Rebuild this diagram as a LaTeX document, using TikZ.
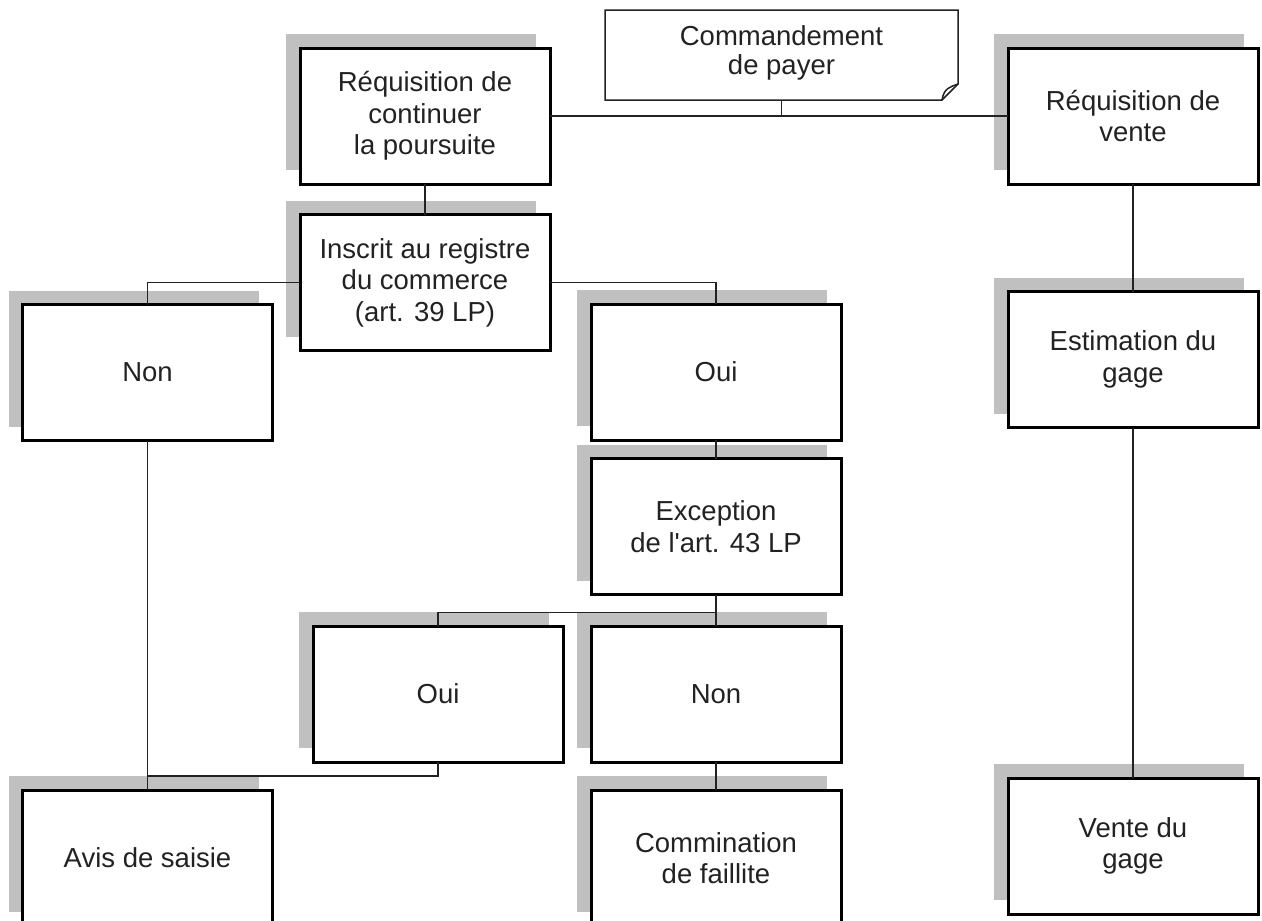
\documentclass[tikz,border=0pt]{standalone}
\usepackage{fontspec}
\setmainfont{Liberation Sans}
\usetikzlibrary{shadows,calc}
\definecolor{shadowgrey}{HTML}{C0C0C0}
\definecolor{inkgrey}{HTML}{222222}
\tikzset{
  box/.style={draw=black, line width=3pt, fill=white, minimum width=250pt,
    minimum height=136pt, inner sep=0pt, outer sep=0pt, align=center,
    text=inkgrey, font=\fontsize{27.5}{31.5}\selectfont,
    general shadow={fill=shadowgrey, shadow xshift=-14pt, shadow yshift=14pt}},
  docbox/.style={minimum width=353pt, minimum height=90pt, inner sep=0pt,
    outer sep=0pt, align=center, text=inkgrey, font=\fontsize{27.5}{29}\selectfont},
  conn/.style={draw=inkgrey, line width=1.6pt},
  docline/.style={draw=inkgrey, line width=1.5pt, line join=miter}
}
\begin{document}
\begin{tikzpicture}[x=1pt,y=-1pt]
\useasboundingbox (0,0) rectangle (1262,921);
\clip (0,0) rectangle (1262,921);
\fill[white] (0,0) rectangle (1262,921);

% document shape
\node[docbox] (cmd) at (781.5,55) {};
\draw[docline, fill=white] (cmd.north west) -- (cmd.north east)
  -- ($(cmd.south east)+(0,-16)$) -- ($(cmd.south east)+(-16,0)$)
  -- (cmd.south west) -- cycle;
\draw[docline] ($(cmd.south east)+(0,-16)$) .. controls ($(cmd.south east)+(-8,-13)$) and ($(cmd.south east)+(-14,-12)$) .. ($(cmd.south east)+(-16,0)$);
\node[docbox] at (781.5,53) {Commandement\\de payer};

% boxes
\node[box] (rcp) at (425,116) {Réquisition de\\continuer\\la poursuite};
\node[box] (rv) at (1133,116) {Réquisition de\\vente};
\node[box] (ins) at (425,282.5) {Inscrit au registre\\du commerce\\(art. 39 LP)};
\node[box] (non1) at (147.5,372.5) {Non};
\node[box] (oui1) at (716,372) {Oui};
\node[box] (est) at (1133,359.5) {Estimation du\\gage};
\node[box] (exc) at (716,526.5) {Exception\\de l\textquotesingle art. 43 LP};
\node[box] (oui2) at (438,694) {Oui};
\node[box] (non2) at (716,694) {Non};
\node[box] (avis) at (147.5,858) {Avis de saisie};
\node[box] (com) at (716,858) {Commination\\de faillite};
\node[box] (vente) at (1133,846) {Vente du\\gage};

% connectors
\draw[conn] (rcp.east) -- (rv.west);
\draw[conn] (cmd.south) -- (cmd.south |- rcp.east);
\draw[conn] (rcp.south) -- (ins.north);
\draw[conn] (ins.west) -| (non1.north);
\draw[conn] (ins.east) -| (oui1.north);
\draw[conn] (oui1.south) -- (exc.north);
\path (exc.south) ++(0,18) coordinate (j2);
\draw[conn] (exc.south) -- (j2);
\draw[conn] (j2) -| (oui2.north);
\draw[conn] (j2) -- (non2.north);
\draw[conn] (non1.south) -- (avis.north);
\path (avis.north) ++(0,-14) coordinate (j3);
\draw[conn] (oui2.south) |- (j3);
\draw[conn] (non2.south) -- (com.north);
\draw[conn] (rv.south) -- (est.north);
\draw[conn] (est.south) -- (vente.north);
\end{tikzpicture}
\end{document}
